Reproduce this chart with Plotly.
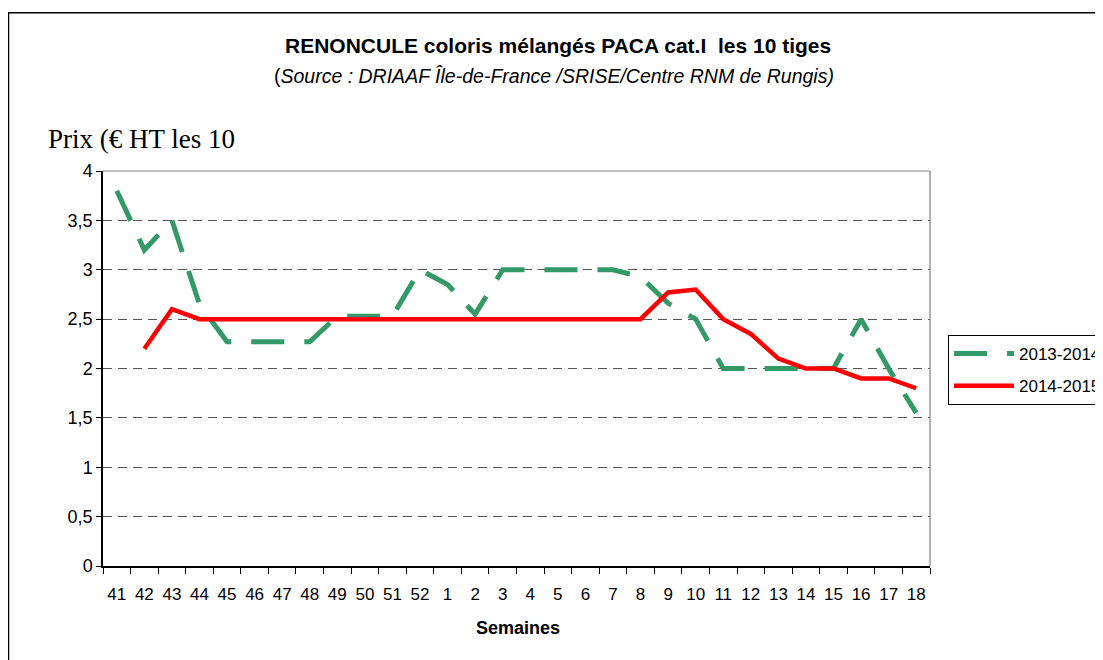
import plotly.graph_objects as go

weeks = ["41", "42", "43", "44", "45", "46", "47", "48", "49", "50", "51", "52",
         "1", "2", "3", "4", "5", "6", "7", "8", "9", "10", "11", "12", "13",
         "14", "15", "16", "17", "18"]

prix_2013_2014 = [3.8, 3.2, 3.5, 2.65, 2.27, 2.27, 2.27, 2.27, 2.53, 2.53, 2.53, 3.0,
                  2.85, 2.55, 3.0, 3.0, 3.0, 3.0, 3.0, 2.93, 2.66, 2.5, 2.0, 2.0, 2.0,
                  2.0, 2.0, 2.5, 2.0, 1.55]

prix_2014_2015 = [None, 2.2, 2.6, 2.5, 2.5, 2.5, 2.5, 2.5, 2.5, 2.5, 2.5, 2.5,
                  2.5, 2.5, 2.5, 2.5, 2.5, 2.5, 2.5, 2.5, 2.77, 2.8, 2.5, 2.35, 2.1,
                  2.0, 2.0, 1.9, 1.9, 1.8]

y_ticks = [0, 0.5, 1, 1.5, 2, 2.5, 3, 3.5, 4]
y_tick_labels = ["0", "0,5", "1", "1,5", "2", "2,5", "3", "3,5", "4"]

# page body has an 8px default margin: work in screen coords, offset by 8
OFF = 8
W, H = 1150, 660 - OFF               # wider than the window: legend is cut off at the right like the original
L, R, T, B = 103, 930, 171, 566      # plot area in screen coords
pw, ph = R - L, B - T

SANS = "Liberation Sans, Arial, sans-serif"
SERIF = "Liberation Serif, Times New Roman, serif"

def px_x(v):
    return (v - L) / pw

def px_y(v):
    return (B - v) / ph

fig = go.Figure()
fig.add_trace(go.Scatter(
    x=weeks, y=prix_2013_2014, name="2013-2014", mode="lines", legendgroup="a",
    line=dict(color="#339966", width=5, dash="33px,20px"),
))
fig.add_trace(go.Scatter(
    x=weeks, y=prix_2014_2015, name="2014-2015", mode="lines", legendgroup="b",
    line=dict(color="#FF0000", width=4.5),
))

shapes = [
    dict(type="rect", xref="paper", yref="paper",
         x0=px_x(8.5), x1=px_x(1400), y0=px_y(800), y1=px_y(12.7),
         line=dict(color="black", width=1.5), fillcolor="rgba(0,0,0,0)", layer="below"),
    dict(type="line", xref="paper", yref="paper", x0=0, x1=1, y0=1, y1=1,
         line=dict(color="#808080", width=1.2)),
    dict(type="line", xref="paper", yref="paper", x0=1, x1=1, y0=0, y1=1,
         line=dict(color="#808080", width=1.2)),
]

fig.update_layout(
    width=W, height=H,
    margin=dict(l=L - OFF, r=W - (R - OFF), t=T - OFF, b=H - (B - OFF), pad=0),
    paper_bgcolor="white", plot_bgcolor="white",
    font=dict(family=SANS, size=16, color="black"),
    showlegend=True,
    legend=dict(
        x=px_x(948), y=px_y(335), xanchor="left", yanchor="top",
        bordercolor="black", borderwidth=1, bgcolor="white",
        font=dict(family=SANS, size=17, color="black"),
        itemwidth=60, tracegroupgap=7,
    ),
    shapes=shapes,
    annotations=[
        dict(text="<b>RENONCULE coloris mélangés PACA cat.I  les 10 tiges</b>",
             xref="paper", yref="paper", x=px_x(558), y=px_y(45),
             xanchor="center", yanchor="middle", showarrow=False,
             font=dict(family=SANS, size=21, color="black")),
        dict(text="(<i>Source : DRIAAF Île-de-France /SRISE/Centre RNM de Rungis)</i>",
             xref="paper", yref="paper", x=px_x(554), y=px_y(76),
             xanchor="center", yanchor="middle", showarrow=False,
             font=dict(family=SANS, size=19.5, color="black")),
        dict(text="Prix (€ HT les 10",
             xref="paper", yref="paper", x=px_x(46), y=px_y(139),
             xanchor="left", yanchor="middle", showarrow=False,
             font=dict(family=SERIF, size=27, color="black")),
        dict(text="<b>Semaines</b>",
             xref="paper", yref="paper", x=px_x(518), y=px_y(628),
             xanchor="center", yanchor="middle", showarrow=False,
             font=dict(family=SANS, size=18, color="black")),
    ],
)

fig.update_xaxes(
    type="category", categoryorder="array", categoryarray=weeks,
    range=[-0.5, len(weeks) - 0.5],
    showline=True, linecolor="black", linewidth=1.5,
    ticks="outside", ticklen=6, tickcolor="black", tickson="boundaries",
    ticklabelstandoff=12, tickangle=0,
    showgrid=False, zeroline=False,
    tickfont=dict(family=SANS, size=17, color="black"),
)
fig.update_yaxes(
    range=[0, 4], tickvals=y_ticks, ticktext=y_tick_labels,
    showline=True, linecolor="black", linewidth=1.5,
    ticks="outside", ticklen=5, tickcolor="black",
    showgrid=True, gridcolor="#555555", griddash="9px,6px", gridwidth=1,
    zeroline=False,
    tickfont=dict(family=SANS, size=18, color="black"),
)

fig.write_html("out.html")
